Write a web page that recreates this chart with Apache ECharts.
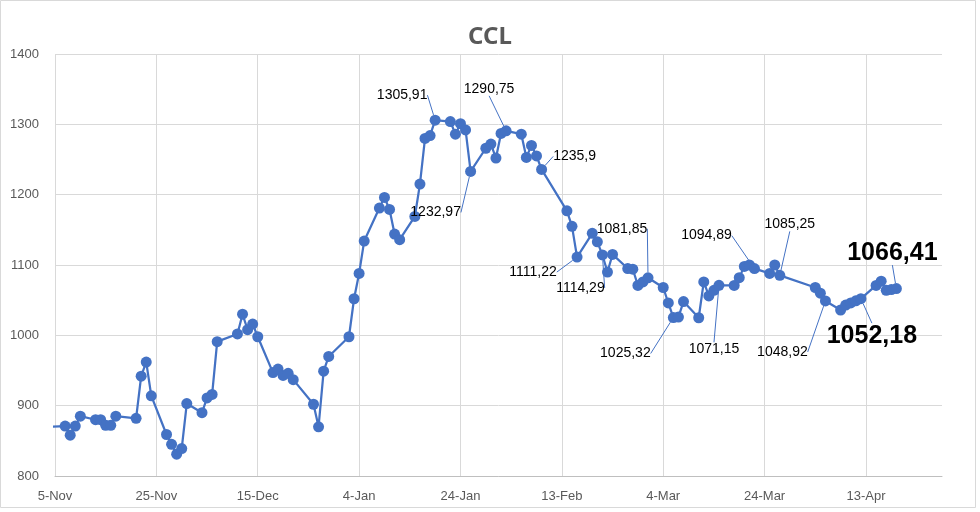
<!DOCTYPE html>
<html>
<head>
<meta charset="utf-8">
<script src="https://cdn.jsdelivr.net/npm/echarts@6/dist/echarts.min.js"></script>
<style>
  html, body { margin: 0; padding: 0; background: #fff; }
  #chart { width: 980px; height: 512px; }
</style>
</head>
<body>
<div id="chart"></div>
<script>
// days counted from 5-Nov-2023
const days = [
  -1, 2, 3, 4, 5, 8, 9, 10, 11, 12, 16, 17, 18, 19, 22, 23, 24, 25, 26,
  29, 30, 31, 32, 36, 37, 38, 39, 40, 43, 44, 45, 46, 47, 51, 52, 53, 54,
  58, 59, 60, 61, 64, 65, 66, 67, 68, 71, 72, 73, 74, 75, 78, 79, 80, 81, 82,
  85, 86, 87, 88, 89, 92, 93, 94, 95, 96, 101, 102, 103, 106, 107, 108, 109, 110,
  113, 114, 115, 116, 117, 120, 121, 122, 123, 124, 127, 128, 129, 130, 131,
  134, 135, 136, 137, 138, 141, 142, 143, 150, 151, 152, 155, 156, 157, 158, 159,
  162, 163, 164, 165, 166
]
const ccl = [
  870, 871, 858, 871, 885, 880, 880, 872, 872, 885, 882, 942, 962, 914, 859, 845, 831, 839, 903,
  890, 911, 916, 991, 1002, 1030, 1008, 1016, 998, 947, 952, 943, 946, 937, 902, 870, 949, 970,
  998, 1052, 1088, 1134, 1181, 1196, 1179, 1144, 1136, 1169, 1215, 1280, 1284, 1305.91, 1304, 1286, 1301, 1292, 1232.97,
  1266, 1272, 1252, 1287, 1290.75, 1286, 1253, 1270, 1255, 1235.9, 1177, 1155, 1111.22, 1145, 1133, 1114.29, 1090, 1115,
  1095, 1094, 1071, 1076, 1081.85, 1068, 1046, 1025.32, 1026, 1048, 1025, 1076, 1056, 1064, 1071.15,
  1071, 1082, 1098, 1100, 1094.89, 1088, 1100, 1085.25, 1068, 1060, 1048.92, 1036, 1043, 1046, 1049, 1052.18,
  1071, 1077, 1064, 1065, 1066.41
]

// annotated points: day -> [dx, dy] offset of the label centre from the point
const labelDays = [75, 82, 89, 96, 103, 108, 117, 122, 131, 138, 143, 152, 159, 166]
const labelOffsets = {
  75: [-33, -25], 82: [-35, 41], 89: [-17, -42], 96: [33, -13],
  103: [-44, 15], 108: [-22, 33], 117: [-26, -49], 122: [-48, 36],
  131: [-5, 64], 138: [-48, -33], 143: [10, -51], 152: [-43, 51],
  159: [11, 37], 166: [-4, -36]
}
const boldDays = [159, 166]

const months = ['Jan', 'Feb', 'Mar', 'Apr', 'May', 'Jun', 'Jul', 'Aug', 'Sep', 'Oct', 'Nov', 'Dec']
const dayLabel = (v) => {
  if (v % 20 !== 0) return ''
  const d = new Date(2023, 10, 5 + v)
  return d.getDate() + '-' + months[d.getMonth()]
}

const fmt = (v) => String(v).replace('.', ',')

const seriesData = days.map((d, i) => {
  const item = { value: [d, ccl[i]] }
  if (labelDays.includes(d)) {
    const big = boldDays.includes(d)
    item.label = {
      show: true,
      fontSize: big ? 25 : 14,
      fontWeight: big ? 'bold' : 'normal'
    }
  }
  return item
})

const chart = echarts.init(document.getElementById('chart'))

chart.setOption({
  animation: false,
  title: {
    text: 'CCL',
    left: 'center',
    top: 20,
    textStyle: { color: '#595959', fontSize: 24, fontWeight: 'bold', fontFamily: 'Noto Sans' }
  },
  graphic: [{
    type: 'rect',
    shape: { x: 0.5, y: 0.5, width: 975, height: 507 },
    style: { fill: 'none', stroke: '#d9d9d9', lineWidth: 1 },
    silent: true
  }],
  grid: { left: 55, right: 38, top: 54, bottom: 36 },
  xAxis: {
    type: 'value',
    min: 0,
    max: 175,
    interval: 20,
    axisLine: { show: true, lineStyle: { color: '#bfbfbf' } },
    axisTick: { show: false },
    axisLabel: {
      color: '#595959', fontSize: 13, margin: 14, fontFamily: 'Liberation Sans',
      showMaxLabel: false,
      formatter: dayLabel
    },
    splitLine: { show: true, showMaxLine: false, lineStyle: { color: '#d9d9d9' } }
  },
  yAxis: {
    type: 'value',
    min: 800,
    max: 1400,
    interval: 100,
    axisLine: { show: false },
    axisTick: { show: false },
    axisLabel: {
      color: '#595959', fontSize: 13, margin: 16, fontFamily: 'Liberation Sans',
      formatter: (v) => String(v)
    },
    splitLine: { show: true, lineStyle: { color: '#d9d9d9' } }
  },
  series: [{
    type: 'line',
    data: seriesData,
    clip: true,
    symbol: 'circle',
    symbolSize: 11,
    lineStyle: { color: '#4472C4', width: 2.25 },
    itemStyle: { color: '#4472C4' },
    label: {
      show: false,
      position: 'inside',
      color: '#000',
      fontFamily: 'Liberation Sans',
      formatter: (p) => fmt(p.value[1])
    },
    labelLine: { show: true, lineStyle: { color: '#4472C4', width: 1 } },
    labelLayout: (params) => {
      const d = days[params.dataIndex]
      const off = labelOffsets[d]
      if (!off) return {}
      return { dx: off[0], dy: off[1] }
    }
  }]
})
</script>
</body>
</html>
